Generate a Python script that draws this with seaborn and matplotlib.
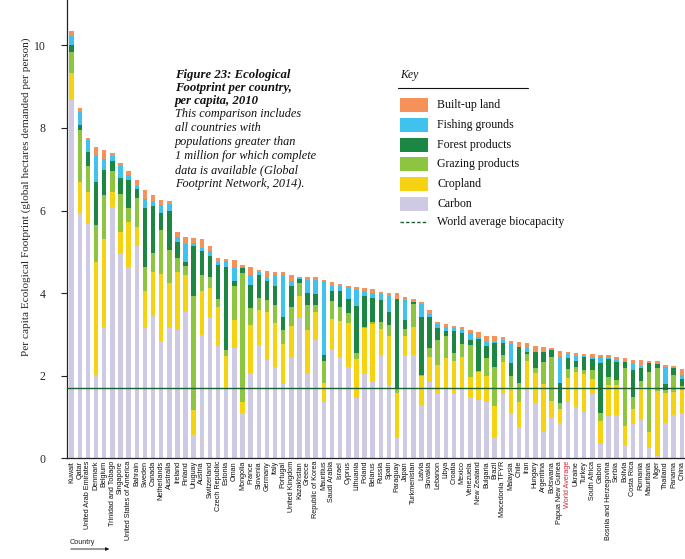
import numpy as np
import matplotlib
matplotlib.use("Agg")
import matplotlib.pyplot as plt
import seaborn as sns
from matplotlib.patches import Rectangle, FancyArrowPatch
from matplotlib.lines import Line2D

countries = ["Kuwait", "Qatar", "United Arab Emirates", "Denmark", "Belgium",
             "Trinidad and Tobago", "Singapore", "United States of America", "Bahrain",
             "Sweden", "Canada", "Netherlands", "Australia", "Ireland", "Finland",
             "Uruguay", "Austria", "Switzerland", "Czech Republic", "Estonia", "Oman",
             "Mongolia", "France", "Slovenia", "Germany", "Italy", "Portugal",
             "United Kingdom", "Kazakhstan", "Greece", "Republic of Korea", "Mauritius",
             "Saudi Arabia", "Israel", "Cyprus", "Lithuania", "Poland", "Belarus",
             "Russia", "Spain", "Paraguay", "Japan", "Turkmenistan", "Latvia",
             "Slovakia", "Lebanon", "Libya", "Croatia", "Mexico", "Venezuela",
             "New Zealand", "Bulgaria", "Brazil", "Macedonia TFYR", "Malaysia", "Chile",
             "Iran", "Hungary", "Argentina", "Botswana", "Papua New Guinea",
             "World Average", "Ukraine", "Turkey", "South Africa", "Gabon",
             "Bosnia and Herzegovina", "Serbia", "Bolivia", "Costa Rica", "Romania",
             "Mauritania", "Niger", "Thailand", "Panama", "China"]

carbon = [8.68, 5.95, 5.68, 2.02, 3.17, 6.08, 4.98, 4.63, 5.13, 3.16, 3.45, 2.83, 3.16,
          3.11, 3.53, 0.56, 2.99, 3.43, 2.72, 1.72, 2.66, 1.10, 2.06, 2.74, 2.38, 2.22,
          1.80, 2.46, 3.39, 2.06, 2.87, 1.35, 2.62, 2.45, 2.22, 1.45, 2.06, 1.86, 2.50,
          1.77, 0.48, 2.50, 2.50, 1.29, 1.85, 1.57, 1.69, 1.57, 1.72, 1.49, 1.41, 1.37,
          0.52, 1.56, 1.10, 0.76, 1.69, 1.33, 0.64, 0.99, 0.86, 1.37, 1.25, 1.13, 1.56,
          0.34, 1.02, 1.05, 0.32, 0.83, 0.93, 0.24, 0.05, 0.86, 1.05, 1.10]
cropland = [0.65, 0.73, 0.77, 2.73, 2.14, 0.38, 0.51, 1.08, 0.48, 0.90, 1.05, 1.63, 1.08,
            1.39, 0.91, 0.61, 1.05, 0.70, 0.94, 0.76, 0.69, 0.27, 1.17, 0.85, 1.17, 1.05,
            0.97, 0.75, 0.54, 1.05, 0.68, 0.48, 0.75, 0.88, 1.05, 0.95, 1.09, 1.39, 0.62,
            1.19, 1.09, 0.46, 0.69, 0.70, 0.61, 0.69, 0.73, 0.79, 0.73, 0.47, 0.69, 0.61,
            0.75, 0.76, 0.63, 0.61, 0.67, 0.74, 1.16, 0.40, 0.32, 0.57, 0.85, 0.91, 0.35,
            0.55, 0.75, 0.72, 0.46, 0.35, 0.80, 0.40, 1.59, 0.73, 0.56, 0.55]
grazing = [0.52, 1.28, 0.63, 0.90, 1.07, 0.49, 0.91, 0.35, 0.69, 0.58, 0.47, 1.07, 0.81,
           0.35, 0.22, 2.75, 0.40, 0.25, 0.19, 0.13, 0.81, 3.11, 0.40, 0.29, 0.29, 0.44,
           0.34, 0.46, 0.31, 0.60, 0.16, 0.53, 0.44, 0.33, 0.24, 0.14, 0.04, 0.05, 0.19,
           0.27, 0.12, 0.16, 0.54, 0.02, 0.20, 0.61, 0.53, 0.18, 0.32, 0.78, 0.02, 0.44,
           0.95, 0.18, 0.26, 0.44, 0.16, 0.11, 0.52, 1.06, 0.15, 0.21, 0.12, 0.10, 0.23,
           0.20, 0.19, 0.13, 1.40, 0.31, 0.13, 1.46, 0.54, 0.06, 0.41, 0.10]
forest = [0.17, 0.12, 0.33, 1.04, 0.59, 0.26, 0.40, 0.68, 0.23, 1.43, 1.13, 0.42, 0.95,
          0.38, 0.10, 1.21, 0.57, 0.51, 0.83, 2.01, 0.14, 0.12, 0.57, 0.56, 0.46, 0.46,
          0.32, 0.49, 0.10, 0.29, 0.27, 0.14, 0.25, 0.40, 0.34, 1.14, 0.74, 0.59, 0.52,
          0.32, 2.16, 0.23, 0.05, 1.42, 0.77, 0.28, 0.14, 0.53, 0.27, 0.12, 0.77, 0.30,
          0.56, 0.30, 0.31, 0.89, 0.06, 0.39, 0.25, 0.16, 0.48, 0.27, 0.14, 0.31, 0.26,
          1.21, 0.44, 0.44, 0.14, 0.65, 0.32, 0.20, 0.10, 0.15, 0.16, 0.16]
fishing = [0.21, 0.30, 0.31, 0.62, 0.28, 0.12, 0.29, 0.13, 0.07, 0.21, 0.12, 0.19, 0.16,
           0.12, 0.43, 0.08, 0.08, 0.12, 0.07, 0.15, 0.30, 0.02, 0.24, 0.06, 0.09, 0.26,
           1.00, 0.14, 0.02, 0.32, 0.34, 1.80, 0.12, 0.10, 0.29, 0.40, 0.13, 0.12, 0.14,
           0.39, 0.00, 0.48, 0.00, 0.30, 0.06, 0.10, 0.10, 0.08, 0.07, 0.17, 0.04, 0.10,
           0.04, 0.07, 0.47, 0.00, 0.12, 0.00, 0.00, 0.00, 0.64, 0.10, 0.12, 0.03, 0.06,
           0.15, 0.05, 0.04, 0.02, 0.16, 0.05, 0.00, 0.00, 0.40, 0.00, 0.11]
builtup = [0.11, 0.10, 0.03, 0.23, 0.21, 0.06, 0.06, 0.09, 0.13, 0.21, 0.16, 0.12, 0.06,
           0.12, 0.16, 0.12, 0.22, 0.13, 0.10, 0.05, 0.19, 0.05, 0.19, 0.06, 0.15, 0.08,
           0.07, 0.14, 0.04, 0.07, 0.06, 0.02, 0.08, 0.06, 0.04, 0.06, 0.07, 0.09, 0.05,
           0.07, 0.15, 0.07, 0.08, 0.05, 0.10, 0.06, 0.06, 0.05, 0.06, 0.08, 0.13, 0.15,
           0.14, 0.06, 0.08, 0.12, 0.10, 0.16, 0.12, 0.05, 0.15, 0.06, 0.06, 0.04, 0.06,
           0.05, 0.05, 0.08, 0.08, 0.08, 0.15, 0.06, 0.08, 0.06, 0.05, 0.13]

world_biocapacity = 1.7

layer_names = ["Carbon", "Cropland", "Grazing products", "Forest products",
               "Fishing grounds", "Built-up land"]
layer_colors = ["#CECAE3", "#F6D312", "#8DC540", "#1B8742", "#40C2EE", "#F7915A"]
line_color = "#1E5E36"

sns.set_theme(style="white")
plt.rcParams["font.family"] = ["Liberation Serif", "DejaVu Serif"]

fig = plt.figure(figsize=(6.85, 5.59), dpi=100)
ax = fig.add_axes([67 / 685, 1 - 458.2 / 559, 1 - 67 / 685, 458.2 / 559])

stack = np.array([carbon, cropland, grazing, forest, fishing, builtup])
cum = np.cumsum(stack, axis=0)
for i in reversed(range(len(layer_names))):
    sns.barplot(x=countries, y=cum[i], order=countries, color=layer_colors[i],
                saturation=1, width=0.55, linewidth=0, errorbar=None, ax=ax)

ax.axhline(world_biocapacity, color=line_color, lw=1.0, zorder=5)

ax.set_xlim(-0.58, 75.4)
ax.set_ylim(0, 11.1)
ax.set_yticks([0, 2, 4, 6, 8, 10])
ax.set_yticklabels(["0", "2", "4", "6", "8", "10"], fontsize=8.5)
ax.tick_params(axis="y", direction="out", length=4.5, width=0.8, color="#222222",
               pad=11, left=True)
ax.tick_params(axis="x", length=0, pad=2)
for s in ["top", "right"]:
    ax.spines[s].set_visible(False)
for s in ["left", "bottom"]:
    ax.spines[s].set_color("#222222")
    ax.spines[s].set_linewidth(0.9)
ax.set_xlabel("")
ax.set_ylabel("Per capita Ecological Footprint (global hectares demanded per person)",
              fontsize=8.1)
ax.yaxis.set_label_coords(-0.059, 0.57)

ax.set_xticks(range(len(countries)))
ax.set_xticklabels(countries, rotation=90, fontsize=5.2,
                   family=["Liberation Sans Narrow", "Liberation Sans", "DejaVu Sans"])
for lab in ax.get_xticklabels():
    lab.set_va("top")
    if lab.get_text() == "World Average":
        lab.set_color("#D7263D")
    else:
        lab.set_color("#111111")

# "Country" note with arrow
fig.text(70 / 685, 1 - 542 / 559, "Country", fontsize=5.2, va="center", ha="left",
         family=["Liberation Sans", "DejaVu Sans"])
fig.add_artist(FancyArrowPatch(
    (68 / 685, 1 - 549 / 559), (112 / 685, 1 - 549 / 559),
    transform=fig.transFigure, arrowstyle="-|>", mutation_scale=5, lw=0.6,
    color="#111111"))

# Title block
title_lines = ["Figure 23: Ecological", "Footprint per country,", "per capita, 2010"]
body_lines = ["This comparison includes", "all countries with",
              "populations greater than", "1 million for which complete",
              "data is available (Global", "Footprint Network, 2014)."]
for k, t in enumerate(title_lines):
    fig.text(175 / 685, 1 - (75 + k * 13) / 559, t, fontsize=9.2, fontweight="bold",
             fontstyle="italic", va="center", ha="left", color="#111111")
for k, t in enumerate(body_lines):
    fig.text(175 / 685, 1 - (114 + k * 14) / 559, t, fontsize=8.8,
             fontstyle="italic", va="center", ha="left", color="#111111")

# Key
fig.text(400 / 685, 1 - 75 / 559, "Key", fontsize=8.5, fontstyle="italic",
         va="center", ha="left", color="#111111")
fig.add_artist(Line2D([398 / 685, 528 / 685], [1 - 88 / 559, 1 - 88 / 559],
                      transform=fig.transFigure, color="#111111", lw=0.8))
key_order = [5, 4, 3, 2, 1, 0]
for r, li in enumerate(key_order):
    yc = 105 + r * 19.8
    fig.add_artist(Rectangle((400 / 685, 1 - (yc + 7) / 559), 28 / 685, 14 / 559,
                             transform=fig.transFigure, facecolor=layer_colors[li],
                             edgecolor="none"))
    fig.text(437 / 685, 1 - yc / 559, layer_names[li], fontsize=8.6, va="center",
             ha="left", color="#111111")
fig.add_artist(Line2D([400 / 685, 428 / 685], [1 - 222 / 559, 1 - 222 / 559],
                      transform=fig.transFigure, color=line_color, lw=1.0,
                      linestyle=(0, (2.5, 1.5))))
fig.text(437 / 685, 1 - 222 / 559, "World average biocapacity", fontsize=8.6,
         va="center", ha="left", color="#111111")

fig.savefig("out.png", dpi=100)
